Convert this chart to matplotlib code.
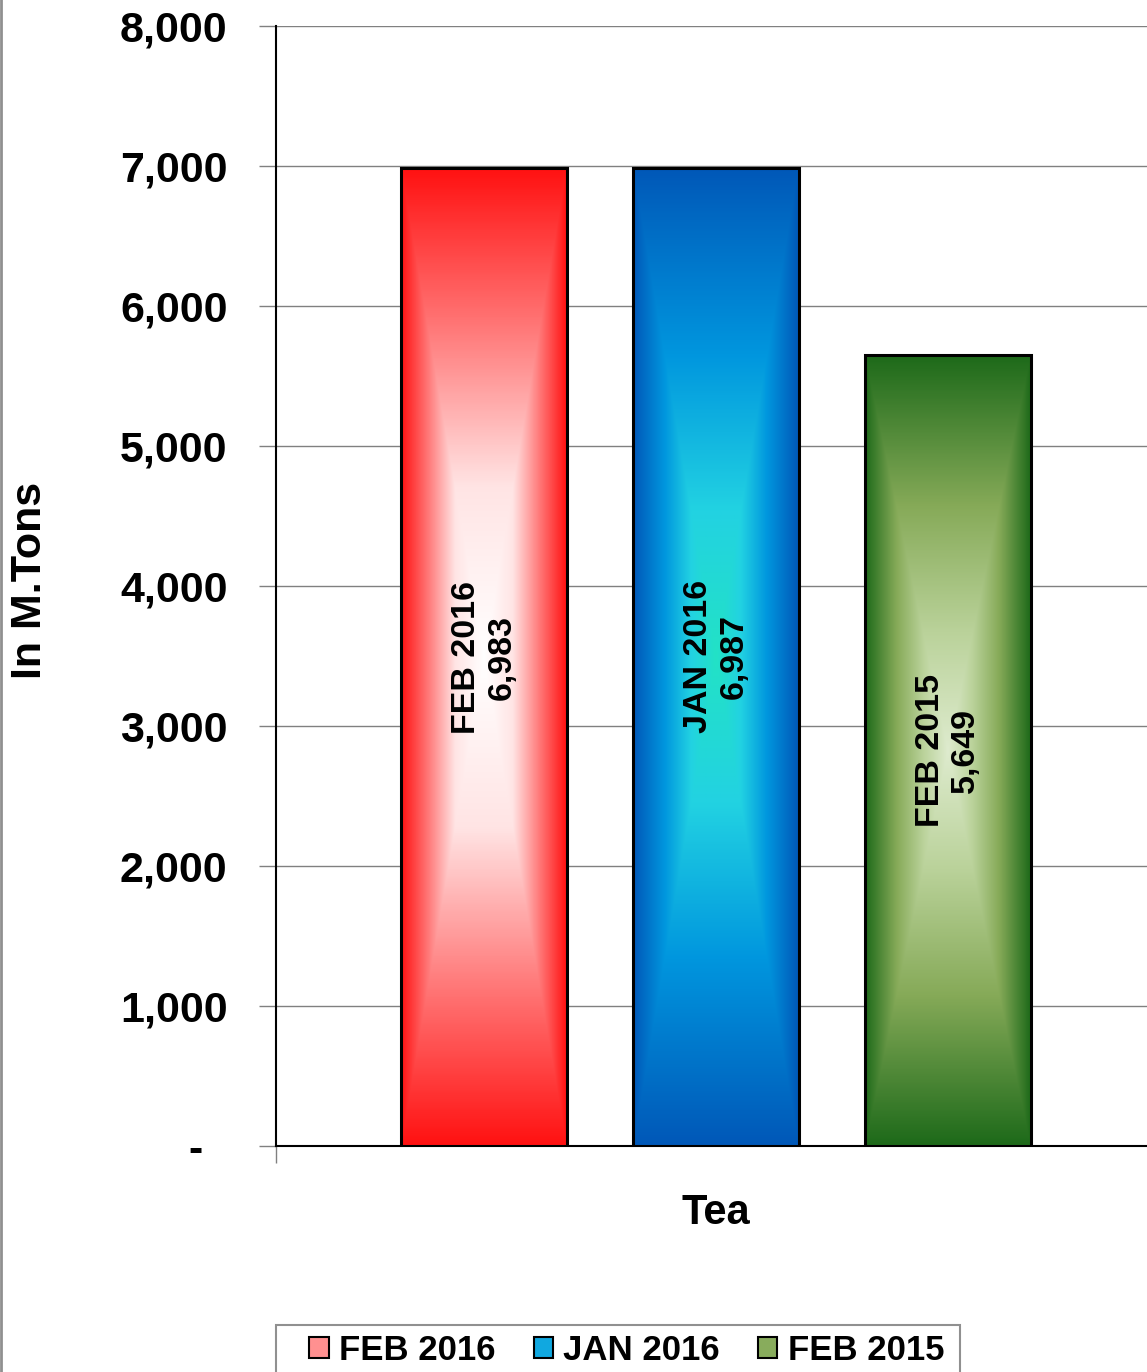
import numpy as np
import matplotlib
matplotlib.use("Agg")
import matplotlib.pyplot as plt
from matplotlib.colors import LinearSegmentedColormap
from matplotlib.patches import Patch, Rectangle
from matplotlib.lines import Line2D

plt.rcParams['font.family'] = ['Liberation Sans', 'DejaVu Sans']
plt.rcParams['font.weight'] = 'bold'

# data
category = 'Tea'
series = ['FEB 2016', 'JAN 2016', 'FEB 2015']
values = [6983, 6987, 5649]
yticks = [0, 1000, 2000, 3000, 4000, 5000, 6000, 7000, 8000]

# gradient stops: center -> edge
grad_stops = [
    [(0.0, '#FFFFFF'), (0.35, '#FFE4E4'), (0.7, '#FF7070'), (1.0, '#FF1212')],
    [(0.0, '#22E2C6'), (0.3, '#22D2E2'), (0.62, '#0096DE'), (1.0, '#0058B8')],
    [(0.0, '#DEEBCE'), (0.3, '#BAD29A'), (0.62, '#86AA58'), (1.0, '#1E6A1A')],
]
legend_face = ['#FF9090', '#10A8E0', '#88AC5C']

W, H = 1147, 1372
fig = plt.figure(figsize=(W / 100, H / 100), dpi=100)
ax = fig.add_axes([276 / W, 1 - 1146 / H, 880 / W, 1120 / H])

x = np.arange(len(series)) - 1
bw = 166 / 232
bars = ax.bar(x, values, width=bw, facecolor='none', edgecolor='black',
              linewidth=2.2, zorder=4)

# rectangular path gradient in every bar
for bar, stops in zip(bars, grad_stops):
    cmap = LinearSegmentedColormap.from_list('g', stops)
    x0, y0 = bar.get_x(), bar.get_y()
    bw_, bh = bar.get_width(), bar.get_height()
    u = np.linspace(-1, 1, 200)
    v = np.linspace(-1, 1, 400)
    U, V = np.meshgrid(u, v)
    t = np.maximum(np.abs(U), np.abs(V))
    im = ax.imshow(t, cmap=cmap, vmin=0, vmax=1, extent=(x0, x0 + bw_, y0, y0 + bh),
                   origin='lower', aspect='auto', interpolation='bilinear', zorder=3)
    im.set_clip_path(bar)

# bar labels
for bar, name, val in zip(bars, series, values):
    ax.text(bar.get_x() + bar.get_width() / 2, val / 2, f'{name}\n{val:,}',
            rotation=90, ha='center', va='center', multialignment='center',
            fontsize=24.5, fontweight='bold', zorder=5)

xl = 880 / 232 / 2
ax.set_xlim(-xl, xl)
ax.set_ylim(0, 8000)

ax.set_yticks(yticks)
ax.set_yticklabels([f'{v:,}' if v else '-  ' for v in yticks])
ax.tick_params(axis='y', length=12, width=1, color='#808080', pad=23, labelsize=31)
ax.yaxis.grid(True, color='#808080', linewidth=1)
ax.set_axisbelow(True)

ax.set_xticks([0])
ax.set_xticklabels([category])
ax.tick_params(axis='x', length=0, pad=34, labelsize=30)
ax.set_xticks([-xl], minor=True)
ax.tick_params(axis='x', which='minor', length=12, width=1, color='#808080')

for lbl in ax.get_xticklabels() + ax.get_yticklabels():
    lbl.set_fontweight('bold')

ax.spines['top'].set_visible(False)
ax.spines['right'].set_visible(False)
ax.spines['left'].set_linewidth(1.5)
ax.spines['bottom'].set_linewidth(1.5)

fig.text(30 / W, 1 - 580 / H, 'In M.Tons', rotation=90, ha='center', va='center',
         fontsize=31, fontweight='bold')

# left frame line of the chart area
fig.add_artist(Line2D([1 / W, 1 / W], [0, 1], transform=fig.transFigure,
                      color='#909090', linewidth=2))

# legend box (runs off the bottom edge)
fig.add_artist(Rectangle((276 / W, -0.02), (960 - 276) / W, 0.02 + 1 - 1325 / H,
                         transform=fig.transFigure, facecolor='white',
                         edgecolor='#909090', linewidth=1.5))

handles = [Patch(facecolor=c, edgecolor='black', linewidth=1.5) for c in legend_face]
leg = fig.legend(handles, series, loc='center left',
                 bbox_to_anchor=(306 / W, 1 - 1350 / H), borderaxespad=0,
                 ncol=3, frameon=False,
                 handlelength=0.55, handleheight=0.55, handletextpad=0.3,
                 columnspacing=1.1, borderpad=0.1,
                 prop={'weight': 'bold', 'size': 25})

fig.savefig('out.png', dpi=100)
